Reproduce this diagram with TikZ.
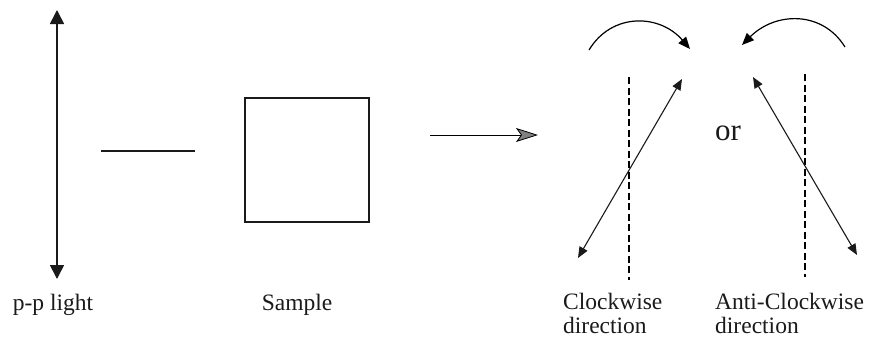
\documentclass[tikz,border=0pt]{standalone}
\usepackage{fontspec}
\setmainfont{Liberation Serif}
\usepackage{tikz}
\usetikzlibrary{arrows.meta, positioning, calc}
\definecolor{psInk}{HTML}{1A1A1A}
\definecolor{psTip}{HTML}{808080}

\begin{document}
\begin{tikzpicture}[x=1pt, y=-1pt, every node/.style={font=\fontsize{23.5}{27}\selectfont, text=psInk},
        beam/.style={draw=psInk, line width=1.6pt, {Triangle[length=14pt, width=14pt]}-{Triangle[length=14pt, width=14pt]}},
        tilted/.style={draw=psInk, line width=1.1pt, {Triangle[length=11pt, width=9pt]}-{Triangle[length=11pt, width=9pt]}},
        turn/.style={-{Triangle[length=12pt, width=10pt]}, line width=1.2pt},
        axis/.style={draw=black, line width=1.5pt, dash pattern=on 7pt off 3.5pt}]
        \useasboundingbox (0,0) rectangle (870,340);
        % polariser and sample
        \coordinate (pTop) at (57,10);
        \coordinate (pBot) at (57,279);
        \draw[beam] (pTop) -- (pBot);
        \coordinate (slitL) at (101,151);
        \coordinate (slitR) at (195,151);
        \draw[draw=psInk, line width=1.8pt] (slitL) -- (slitR);
        \node[draw=psInk, line width=1.6pt, minimum width=124pt, minimum height=124pt] (sample) at (307,160) {};
        \node (plight) at (53,305) {p-p light};
        \node (samplelbl) at (297,305) {Sample};
        % result arrow
        \coordinate (goL) at (430,135);
        \coordinate (goR) at (538,135);
        \draw[-{Stealth[length=22pt, width=14pt, inset=5pt, fill=psTip, line width=0.8pt]}, draw=black, line width=1pt] (goL) -- (goR);
        % clockwise
        \coordinate (cwTop) at (629,77);
        \coordinate (cwBot) at (629,280);
        \draw[axis] (cwTop) -- (cwBot);
        \coordinate (cwA) at (578,258);
        \coordinate (cwB) at (682,79);
        \draw[tilted] (cwA) -- (cwB);
        \coordinate (cwS) at (589,50);
        \coordinate (cwE) at (690,49);
        \draw[turn] (cwS) .. controls (612,12) and (660,14) .. (cwE);
        \node[align=left, anchor=north west, inner sep=0pt] (cwlbl) at (563,293) {Clockwise\\[-3pt]direction};
        % anti-clockwise
        \coordinate (acTop) at (805,74);
        \coordinate (acBot) at (805,277);
        \draw[axis] (acTop) -- (acBot);
        \coordinate (acA) at (857,255);
        \coordinate (acB) at (753,77);
        \draw[tilted] (acA) -- (acB);
        \coordinate (acS) at (845,47);
        \coordinate (acE) at (742,45);
        \draw[turn] (acS) .. controls (822,10) and (775,12) .. (acE);
        \node[align=left, anchor=north west, inner sep=0pt] (aclbl) at (715,293) {Anti-Clockwise\\[-3pt]direction};
        \node[font=\fontsize{31}{34}\selectfont] (orlbl) at (728,133) {or};
      \end{tikzpicture}
\end{document}
